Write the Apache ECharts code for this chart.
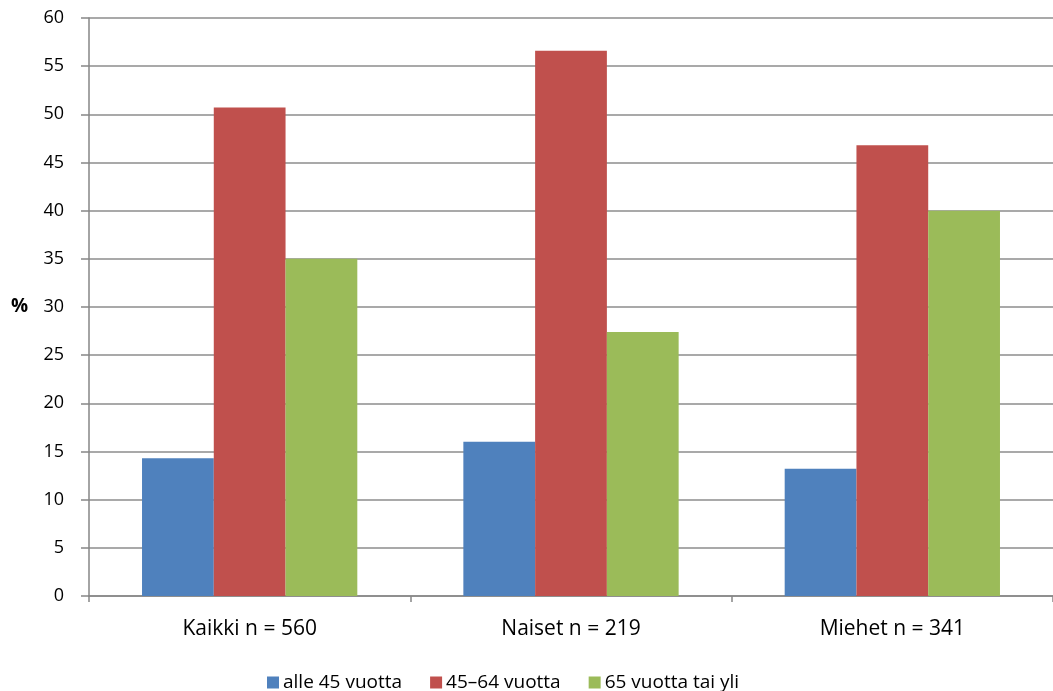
<!DOCTYPE html>
<html><head><meta charset="utf-8">
<script src="https://cdn.jsdelivr.net/npm/echarts@6/dist/echarts.min.js"></script>
<style>html,body{margin:0;padding:0;background:#fff}#c{width:1053px;height:691px}</style>
</head><body><div id="c"></div>
<script>
const categories = ['Kaikki n = 560', 'Naiset n = 219', 'Miehet n = 341'];
const seriesNames = ['alle 45 vuotta', '45–64 vuotta', '65 vuotta tai yli'];
const alle45 = [14.3, 16.0, 13.2];
const v45_64 = [50.7, 56.6, 46.8];
const v65plus = [35.0, 27.4, 40.0];
const colors = ['#4f81bd', '#c0504d', '#9bbb59'];
const font = '"Open Sans", "DejaVu Sans", sans-serif';
const chart = echarts.init(document.getElementById('c'));
const data = [alle45, v45_64, v65plus];
chart.setOption({
  animation: false,
  color: colors,
  textStyle: {fontFamily: font},
  grid: {left: 89, width: 969, top: 18, bottom: 95, containLabel: false},
  legend: {
    top: 668, left: 262, itemWidth: 12, itemHeight: 12, itemGap: 28,
    icon: 'rect',
    textStyle: {fontSize: 19, color: '#000', fontFamily: font, padding: [0, 0, 0, -1]},
    data: seriesNames
  },
  xAxis: {
    type: 'category', data: categories,
    axisLine: {lineStyle: {color: '#868686', width: 1.5}},
    axisTick: {show: true, alignWithLabel: false, length: 6, lineStyle: {color: '#868686', width: 1.5}},
    axisLabel: {fontSize: 21, color: '#000', margin: 23, fontFamily: font}
  },
  yAxis: {
    type: 'value', min: 0, max: 60, interval: 5,
    name: '%', nameLocation: 'middle', nameGap: 61, nameRotate: 0,
    nameTextStyle: {fontSize: 19, fontWeight: 'bold', color: '#000', fontFamily: font},
    axisLine: {show: true, lineStyle: {color: '#868686', width: 1.5}},
    axisTick: {show: true, length: 8, lineStyle: {color: '#868686', width: 1.5}},
    axisLabel: {fontSize: 18, color: '#000', margin: 25, fontFamily: font},
    splitLine: {lineStyle: {color: '#8c8c8c', width: 1.5}}
  },
  series: seriesNames.map((n, i) => ({
    name: n, type: 'bar', data: data[i], barGap: '0%', barCategoryGap: '33%'
  }))
});
</script></body></html>
